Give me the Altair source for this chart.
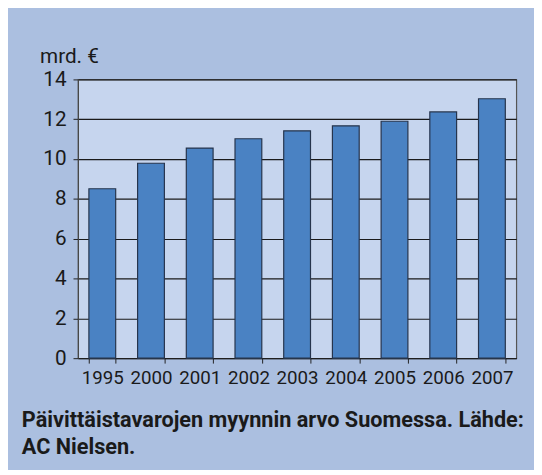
import altair as alt
import pandas as pd

years = ["1995", "2000", "2001", "2002", "2003", "2004", "2005", "2006", "2007"]
values = [8.51, 9.79, 10.55, 11.02, 11.42, 11.67, 11.90, 12.37, 13.03]
y_ticks = [0, 2, 4, 6, 8, 10, 12, 14]
caption = ["Päivittäistavarojen myynnin arvo Suomessa. Lähde:", "AC Nielsen."]
y_title = "mrd. €"

df = pd.DataFrame({"year": years, "value": values})

FONT = "Liberation Sans Narrow, Roboto, sans-serif"

chart = alt.Chart(df).mark_bar(
    color="#4a82c3", stroke="#26344c", strokeWidth=1.2
).encode(
    x=alt.X("year:N", sort=years,
            scale=alt.Scale(paddingInner=0.45, paddingOuter=0.225),
            axis=alt.Axis(title=None, labelAngle=0, tickBand="extent",
                          tickSize=5, labelPadding=6, labelFontSize=19,
                          labelFont=FONT, labelColor="#1a1a1a",
                          domainColor="#222", tickColor="#222", grid=False)),
    y=alt.Y("value:Q", scale=alt.Scale(domain=[0, 14], nice=False),
            axis=alt.Axis(values=y_ticks, title=y_title, titleAngle=0,
                          titleAlign="left", titleBaseline="alphabetic",
                          titleX=-39, titleY=-17, titleFont=FONT,
                          titleFontSize=21, titleFontWeight="normal",
                          titleColor="#1a1a1a",
                          tickSize=5, labelPadding=7, labelFontSize=21,
                          labelFont=FONT, labelColor="#1a1a1a",
                          domainColor="#444", tickColor="#222",
                          grid=True, gridColor="#1a1a1a", gridWidth=1.2,
                          gridOpacity=1)),
).properties(
    width=445,
    height=283,
    background="#abbfe0",
    autosize=alt.AutoSizeParams(type="none"),
    padding={"left": 71, "top": 69, "right": 18, "bottom": 110},
    title=alt.TitleParams(
        text=caption, orient="bottom", anchor="start", frame="group",
        dx=-57, offset=23, font=FONT, fontSize=22, fontWeight="bold",
        color="#1a1a1a", lineHeight=27, baseline="top",
    ),
).configure_view(
    fill="#c6d5ee", stroke="#555", strokeWidth=1.2
)

chart.save("out.html", embed_options={"renderer": "svg", "actions": False})
